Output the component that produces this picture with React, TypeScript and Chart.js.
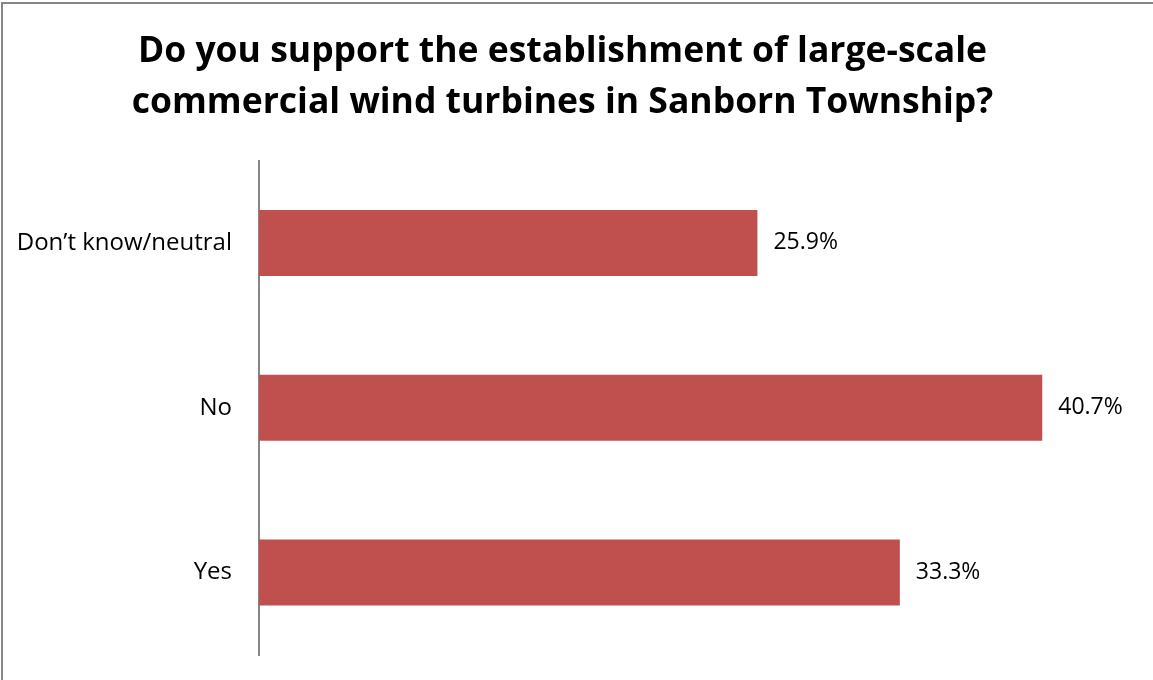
import React, { useEffect, useRef } from "react";
import { Chart, registerables } from "chart.js";

Chart.register(...registerables);

const titleLines = [
  "Do you support the establishment of large-scale",
  "commercial wind turbines in Sanborn Township?",
];
const categories = ["Don\u2019t know/neutral", "No", "Yes"];
const values = [25.9, 40.7, 33.3];
const barColor = "#C0504D";

const frame = {
  id: "frame",
  beforeDraw(chart: any) {
    const ctx = chart.ctx;
    ctx.save();
    ctx.strokeStyle = "#868686";
    ctx.lineWidth = 2;
    ctx.strokeRect(2, 3, chart.width + 20, chart.height + 20);
    ctx.restore();
  },
};

const valueLabels = {
  id: "valueLabels",
  afterDatasetsDraw(chart: any) {
    const ctx = chart.ctx;
    const meta = chart.getDatasetMeta(0);
    ctx.save();
    ctx.font = "23px 'Open Sans'";
    ctx.fillStyle = "#000";
    ctx.textAlign = "left";
    ctx.textBaseline = "middle";
    meta.data.forEach((bar: any, i: number) => {
      ctx.fillText(values[i].toFixed(1) + "%", bar.x + 16, bar.y);
    });
    ctx.restore();
  },
};

export default function App() {
  const ref = useRef<HTMLCanvasElement>(null);
  useEffect(() => {
    const chart = new Chart(ref.current!, {
      type: "bar",
      data: {
        labels: categories,
        datasets: [
          {
            data: values,
            backgroundColor: barColor,
            categoryPercentage: 1,
            barPercentage: 0.4,
          },
        ],
      },
      options: {
        indexAxis: "y",
        animation: false,
        responsive: false,
        layout: { padding: { left: 0, right: 28, top: 0, bottom: 25 } },
        plugins: {
          legend: { display: false },
          tooltip: { enabled: false },
          title: {
            display: true,
            text: titleLines,
            color: "#000",
            font: { family: "'Open Sans'", size: 35.5, weight: "bold", lineHeight: 1.43 },
            padding: { top: 27, bottom: 32 },
          },
        },
        scales: {
          x: { display: false, min: 0, max: 45 },
          y: {
            grid: { display: false, drawTicks: false },
            border: { display: true, color: "#868686", width: 2 },
            ticks: {
              color: "#000",
              font: { family: "'Open Sans'", size: 24 },
              padding: 27,
            },
            afterFit(scale: any) {
              scale.width = 259;
              scale.paddingTop = 0;
              scale.paddingBottom = 0;
            },
          },
        },
      },
      plugins: [frame, valueLabels],
    });
    return () => chart.destroy();
  }, []);
  return (
    <div style={{ position: "absolute", left: 0, top: 0, width: 1153, height: 680, background: "#fff" }}>
      <canvas ref={ref} width={1153} height={680} />
    </div>
  );
}
